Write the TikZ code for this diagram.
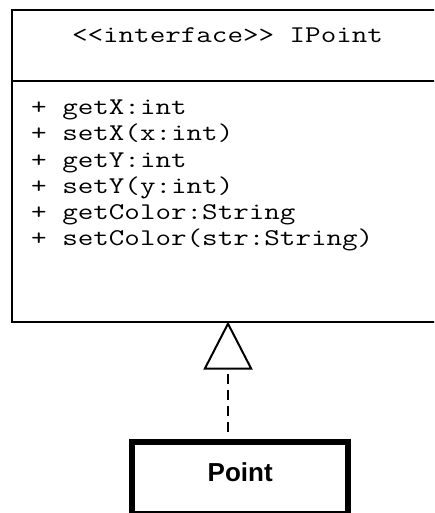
\documentclass[tikz,border=0pt]{standalone}
\usepackage{fontspec}
\usepackage{graphicx}
\newfontfamily\pointfont{Liberation Sans}
\usetikzlibrary{arrows.meta}
\newcommand\hx[1]{\scalebox{1.258}[1]{#1}}
\tikzset{
  ifacebox/.style={draw, line width=2pt, rectangle, inner sep=0pt, outer sep=0pt,
    minimum width=440pt, minimum height=311pt, anchor=north west},
  mline/.style={anchor=base west, inner sep=0pt, font=\fontsize{24}{26}\selectfont\ttfamily},
  pointbox/.style={draw, line width=5.7pt, rectangle, inner sep=0pt, outer sep=0pt,
    minimum width=216pt, minimum height=71.3pt,
    font=\pointfont\bfseries\fontsize{26}{30}\selectfont,
    text height=19pt, text depth=12.6pt},
  realize/.style={line width=2pt, dash pattern=on 9.5pt off 6.5pt,
    -{Triangle[open, length=48pt, width=49pt]}}
}
\begin{document}
\begin{tikzpicture}[x=1pt,y=-1pt]
\useasboundingbox (0,0) rectangle (434,513);
\clip (0,0) rectangle (434,513);
\node[ifacebox] (iface) at (12,10.5) {};
\draw[line width=2pt] (iface.west |- 0,81) -- (iface.east |- 0,81);
\node[mline, anchor=base] (title) at (227.5,42.3) {\hx{{<}{<}interface{>}{>} IPoint}};
\node[mline] (m1) at (31,115.0) {\hx{+ getX:int}};
\node[mline] (m2) at (31,141.0) {\hx{+ setX(x:int)}};
\node[mline] (m3) at (31,167.0) {\hx{+ getY:int}};
\node[mline] (m4) at (31,193.0) {\hx{+ setY(y:int)}};
\node[mline] (m5) at (31,219.0) {\hx{+ getColor:String}};
\node[mline] (m6) at (31,245.0) {\hx{+ setColor(str:String)}};
\node[pointbox] (point) at (240.2,477.8) {Point};
\coordinate (apex) at (228,321.5);
\draw[realize, shorten <=10.3pt] (point.north -| apex) -- (apex);
\end{tikzpicture}
\end{document}
